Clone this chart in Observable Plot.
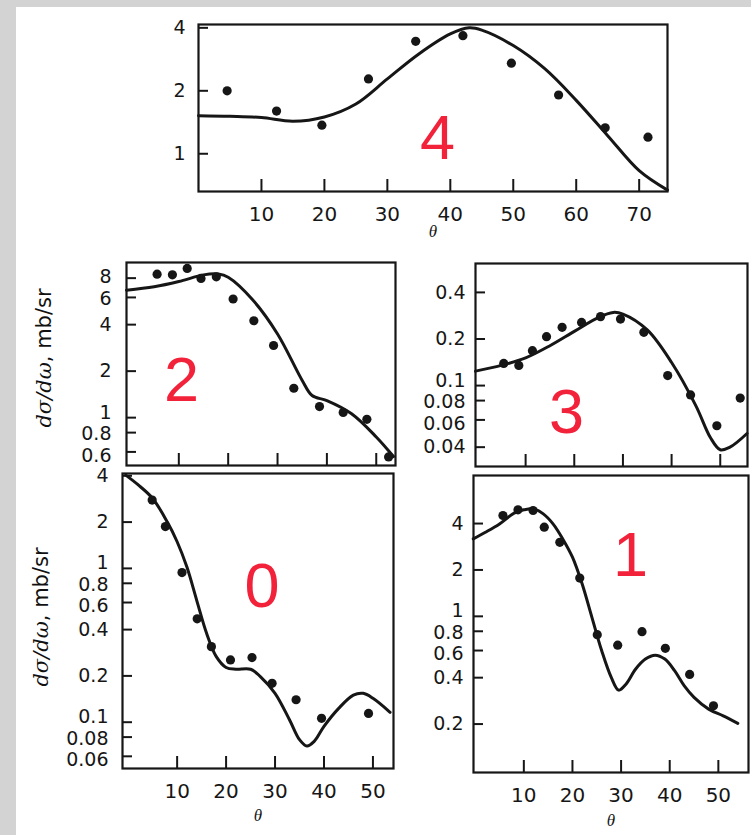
<!DOCTYPE html>
<html><head><meta charset="utf-8">
<script src="https://cdn.jsdelivr.net/npm/d3@7"></script>
<script src="https://cdn.jsdelivr.net/npm/@observablehq/plot@0.6"></script>
<style>
html,body{margin:0;padding:0;background:#fff;}
#page{position:relative;width:751px;height:835px;background:#fff;overflow:hidden;}
.gray-top{position:absolute;left:0;top:0;width:751px;height:7px;background:#d3d3d3;}
.gray-left{position:absolute;left:0;top:0;width:16px;height:835px;background:#d3d3d3;}
.panel{position:absolute;}
.ylab{position:absolute;white-space:nowrap;transform:translate(-50%,-50%) rotate(-90deg);font:21px "DejaVu Sans";color:#111;}
.ylab i{font-family:"DejaVu Serif";}
</style></head><body><div id="page"><div class="gray-top"></div><div class="gray-left"></div></div>
<script>
// ---- data (θ in degrees, dσ/dω in mb/sr) ----
const p4PointTheta = [4.55, 12.4, 19.6, 27.0, 34.5, 42.0, 49.7, 57.2, 64.6, 71.4];
const p4PointValue = [2.0, 1.6, 1.37, 2.28, 3.45, 3.67, 2.71, 1.91, 1.33, 1.20];
const p4CurveTheta = [0, 5, 10, 15, 20, 25, 30, 35, 40, 43, 45, 50, 55, 60, 65, 70, 74.5];
const p4CurveValue = [1.52, 1.51, 1.49, 1.43, 1.50, 1.73, 2.28, 3.0, 3.74, 4.0, 3.9, 3.29, 2.55, 1.80, 1.22, 0.83, 0.67];
const p4XTicks = [10, 20, 30, 40, 50, 60, 70];
const p4YTicks = [1, 2, 4];

const p2PointTheta = [5.6, 8.7, 11.7, 14.5, 17.6, 21.0, 25.2, 29.2, 33.3, 38.5, 43.3, 48.1, 52.5];
const p2PointValue = [8.49, 8.4, 9.24, 7.96, 8.16, 5.86, 4.24, 2.93, 1.55, 1.18, 1.08, 0.975, 0.557];
const p2CurveTheta = [-0.6, 5, 10, 15, 18, 20, 25, 30, 35, 37, 40, 45, 50, 53.5];
const p2CurveValue = [6.69, 7.03, 7.6, 8.4, 8.5, 8.1, 5.77, 3.48, 1.74, 1.39, 1.29, 1.06, 0.75, 0.56];
const p2XTicks = [10, 20, 30, 40, 50];
const p2YTicks = [0.6, 0.8, 1, 2, 4, 6, 8];

const p3PointTheta = [5.5, 8.6, 11.4, 14.3, 17.5, 21.5, 25.4, 29.5, 34.3, 39.2, 43.9, 49.3, 54.1];
const p3PointValue = [0.139, 0.135, 0.168, 0.207, 0.238, 0.256, 0.279, 0.269, 0.221, 0.116, 0.087, 0.055, 0.083];
const p3CurveTheta = [-0.3, 5, 10, 15, 20, 25, 28, 30, 35, 40, 45, 48, 50, 52, 55.5];
const p3CurveValue = [0.124, 0.135, 0.151, 0.181, 0.224, 0.276, 0.297, 0.29, 0.229, 0.141, 0.074, 0.046, 0.0385, 0.040, 0.049];
const p3XTicks = [10, 20, 30, 40, 50];
const p3YTicks = [0.04, 0.06, 0.08, 0.1, 0.2, 0.4];

const p0PointTheta = [4.9, 7.6, 11.0, 14.1, 17.0, 20.9, 25.3, 29.4, 34.3, 39.5, 49.1];
const p0PointValue = [2.78, 1.87, 0.94, 0.47, 0.31, 0.254, 0.263, 0.179, 0.14, 0.106, 0.114];
const p0CurveTheta = [-0.5, 2, 5, 8, 10, 12, 14, 16, 18, 20, 22, 25, 27, 30, 33, 35, 36.5, 38, 40, 43, 46, 48, 50, 53.5];
const p0CurveValue = [4.04, 3.5, 2.85, 2.0, 1.49, 1.02, 0.62, 0.38, 0.267, 0.227, 0.221, 0.221, 0.198, 0.154, 0.103, 0.077, 0.070, 0.075, 0.094, 0.123, 0.150, 0.154, 0.143, 0.116];
const p0XTicks = [10, 20, 30, 40, 50];
const p0YTicks = [0.06, 0.08, 0.1, 0.2, 0.4, 0.6, 0.8, 1, 2, 4];

const p1PointTheta = [5.7, 8.8, 11.9, 14.2, 17.4, 21.5, 25.1, 29.3, 34.3, 39.1, 44.1, 49.0];
const p1PointValue = [4.51, 4.91, 4.86, 3.79, 3.02, 1.77, 0.76, 0.65, 0.795, 0.62, 0.42, 0.263];
const p1CurveTheta = [-0.4, 2, 5, 8, 10, 12, 14, 16, 18, 20, 22, 24, 26, 28, 29.5, 31, 33, 35, 37, 39, 41, 43, 45, 48, 51, 54];
const p1CurveValue = [3.18, 3.5, 3.98, 4.67, 4.91, 4.98, 4.62, 3.98, 3.18, 2.42, 1.62, 0.985, 0.6, 0.40, 0.332, 0.363, 0.455, 0.528, 0.56, 0.528, 0.444, 0.354, 0.298, 0.25, 0.226, 0.202];
const p1XTicks = [10, 20, 30, 40, 50];
const p1YTicks = [0.2, 0.4, 0.6, 0.8, 1, 2, 4];

const panelNames = ["4", "2", "3", "0", "1"];
const axisTitle = "θ";

// ---- layout (pixels) ----
const RED = "#f3223b", INK = "#161616";
const LABEL_SIZE = 19, LABEL_SPACING = 21.5;
const layout = [
  {name: panelNames[0], frame: [198, 24, 667, 191], xDomain: [0, 74.5], yDomain: [0.66, 4.15], gap: 13,
   pt: p4PointTheta, pv: p4PointValue, ct: p4CurveTheta, cv: p4CurveValue, xt: p4XTicks, yt: p4YTicks, xLabels: true, titleDy: 40, num: [437, 158]},
  {name: panelNames[1], frame: [126, 262, 395, 465], xDomain: [-0.6, 53.9], yDomain: [0.49, 10.1], gap: 15,
   pt: p2PointTheta, pv: p2PointValue, ct: p2CurveTheta, cv: p2CurveValue, xt: p2XTicks, yt: p2YTicks, xLabels: false, num: [181, 400]},
  {name: panelNames[2], frame: [475, 263, 747, 466], xDomain: [-0.3, 55.6], yDomain: [0.030, 0.615], gap: 10,
   pt: p3PointTheta, pv: p3PointValue, ct: p3CurveTheta, cv: p3CurveValue, xt: p3XTicks, yt: p3YTicks, xLabels: false, num: [566, 432]},
  {name: panelNames[3], frame: [122, 473, 393, 768], xDomain: [-1.16, 54.2], yDomain: [0.050, 4.14], gap: 14,
   pt: p0PointTheta, pv: p0PointValue, ct: p0CurveTheta, cv: p0CurveValue, xt: p0XTicks, yt: p0YTicks, xLabels: true, titleDy: 47, num: [261.5, 606]},
  {name: panelNames[4], frame: [473, 475, 748, 772], xDomain: [-0.35, 56.2], yDomain: [0.097, 8.2], gap: 10,
   pt: p1PointTheta, pv: p1PointValue, ct: p1CurveTheta, cv: p1CurveValue, xt: p1XTicks, yt: p1YTicks, xLabels: true, titleDy: 48, num: [630, 575]}
];

// spread crowded tick labels apart (as the printed figure does), returning a vertical nudge per tick
function labelNudges(ticks, domain, h) {
  const s = d3.scaleLog().domain(domain).range([h, 0]);
  const order = ticks.map((t, i) => i).sort((a, b) => s(ticks[a]) - s(ticks[b]));
  const pos = order.map(i => s(ticks[i]));
  const orig = pos.slice();
  for (let it = 0; it < 200; it++) {
    for (let k = 1; k < pos.length; k++) {
      const d = pos[k] - pos[k - 1];
      if (d < LABEL_SPACING) { const o = (LABEL_SPACING - d) / 2; pos[k - 1] -= o; pos[k] += o; }
    }
  }
  const nudge = new Array(ticks.length);
  order.forEach((i, k) => nudge[i] = pos[k] - orig[k]);
  return nudge;
}

const page = document.getElementById("page");
const mL = 100, mR = 6, mT = 6, mB = 62;

for (const p of layout) {
  const [x0, y0, x1, y1] = p.frame;
  const points = p.pt.map((t, i) => ({theta: t, value: p.pv[i]}));
  const curve = p.ct.map((t, i) => ({theta: t, value: p.cv[i]}));
  const nudges = labelNudges(p.yt, p.yDomain, y1 - y0);
  const marks = [
    Plot.axisY(p.yt, {tickSize: -10, strokeWidth: 2, stroke: INK, tickFormat: () => "", label: null}),
    ...p.yt.map((t, i) => Plot.text([t], {y: d => d, text: d => String(d), frameAnchor: "left", textAnchor: "end",
      dx: -p.gap, dy: nudges[i], lineAnchor: "middle", fontSize: LABEL_SIZE, fill: INK})),
    Plot.axisX(p.xt, {tickSize: -12, tickPadding: 27, strokeWidth: 2, stroke: INK,
      tickFormat: p.xLabels ? (d => String(d)) : (() => ""), label: null, fontSize: 20}),
    Plot.frame({stroke: INK, strokeWidth: 2.2}),
    Plot.line(curve, {x: "theta", y: "value", curve: "catmull-rom", stroke: INK, strokeWidth: 3}),
    Plot.dot(points, {x: "theta", y: "value", r: 4.6, fill: INK, stroke: "none"}),
    Plot.text([p.name], {text: d => d, frameAnchor: "top-left", dx: p.num[0] - x0, dy: p.num[1] - y0,
      textAnchor: "middle", lineAnchor: "bottom", fill: RED, fontSize: 63, fontFamily: "Liberation Sans"})
  ];
  if (p.xLabels) marks.push(Plot.text([axisTitle], {text: d => d, frameAnchor: "bottom", dy: p.titleDy,
      lineAnchor: "middle", fontStyle: "italic", fontFamily: "Liberation Serif", fontSize: 17, fill: INK}));
  const chart = Plot.plot({
    width: (x1 - x0) + mL + mR, height: (y1 - y0) + mT + mB,
    marginLeft: mL, marginRight: mR, marginTop: mT, marginBottom: mB,
    style: {background: "transparent", fontFamily: "DejaVu Sans", fontSize: "20px", color: INK, overflow: "visible"},
    x: {domain: p.xDomain},
    y: {type: "log", domain: p.yDomain},
    marks
  });
  chart.classList.add("panel");
  chart.style.left = (x0 - mL) + "px";
  chart.style.top = (y0 - mT) + "px";
  page.appendChild(chart);
}

function addYLabel(cx, cy) {
  const d = document.createElement("div");
  d.className = "ylab";
  d.style.left = cx + "px"; d.style.top = cy + "px";
  d.innerHTML = "<i>dσ/dω</i>, mb/sr";
  page.appendChild(d);
}
addYLabel(44, 358);
addYLabel(41, 617);
</script></body></html>
